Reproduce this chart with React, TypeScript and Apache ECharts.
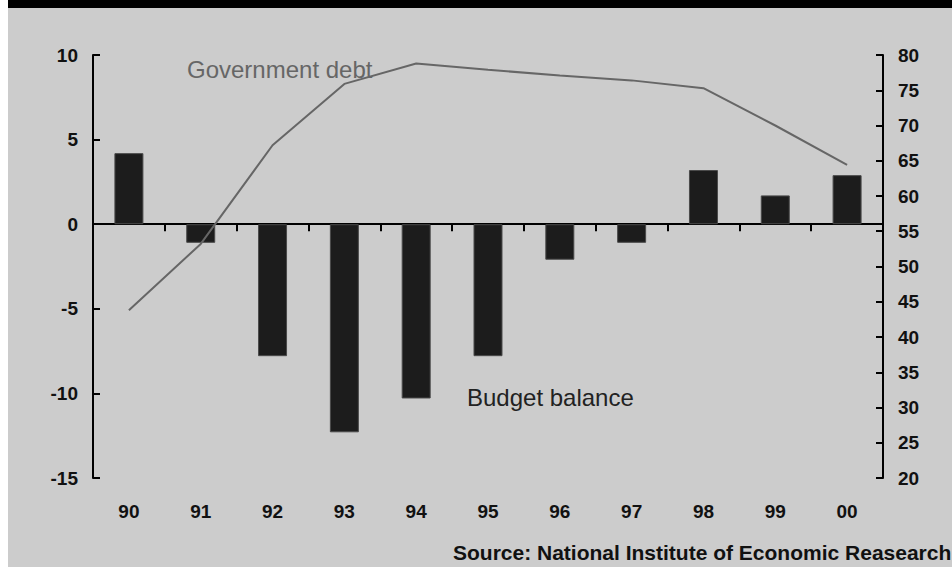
import React, { useEffect, useRef } from "react";
import * as echarts from "echarts";

const years = ["90", "91", "92", "93", "94", "95", "96", "97", "98", "99", "00"];
const budgetBalance = [4.2, -1.1, -7.8, -12.3, -10.3, -7.8, -2.1, -1.1, 3.2, 1.7, 2.9];
const governmentDebt = [43.8, 53.2, 67.2, 75.9, 78.8, 77.9, 77.1, 76.4, 75.3, 70.0, 64.4];
const leftTicks = { min: -15, max: 10, interval: 5 };
const rightTicks = { min: 20, max: 80, interval: 5 };

export default function App() {
  const ref = useRef<HTMLDivElement>(null);
  useEffect(() => {
    if (!ref.current) return;
    const chart = echarts.init(ref.current, undefined, { renderer: "svg" });
    const font = "'Liberation Sans', Arial, sans-serif";
    chart.setOption({
      animation: false,
      backgroundColor: "#cccccc",
      grid: { left: 93, right: 69, top: 55, bottom: 89, containLabel: false, outerBoundsMode: "none" },
      graphic: [
        { type: "rect", shape: { x: 0, y: 0, width: 8, height: 567 }, style: { fill: "#ffffff" }, silent: true },
        { type: "rect", shape: { x: 8, y: 0, width: 944, height: 8 }, style: { fill: "#000000" }, silent: true },
        {
          type: "text",
          x: 187,
          y: 69,
          style: { text: "Government debt", fill: "#666666", font: `24px ${font}`, verticalAlign: "middle" },
          z: 10,
        },
        {
          type: "text",
          x: 467,
          y: 397,
          style: { text: "Budget balance", fill: "#222222", font: `24px ${font}`, verticalAlign: "middle" },
          z: 10,
        },
        {
          type: "text",
          x: 453,
          y: 552,
          style: {
            text: "Source: National Institute of Economic Reasearch",
            fill: "#111111",
            font: `bold 21px ${font}`,
            verticalAlign: "middle",
          },
          z: 10,
        },
      ],
      xAxis: [
        {
          type: "category",
          data: years,
          boundaryGap: true,
          position: "bottom",
          axisLine: { show: true, onZero: true, lineStyle: { color: "#000000", width: 2 } },
          axisTick: { show: true, inside: false, length: 7, lineStyle: { color: "#000000", width: 2 } },
          axisLabel: { show: false },
          splitLine: { show: false },
        },
        {
          type: "category",
          data: years,
          boundaryGap: true,
          position: "bottom",
          axisLine: { show: false, onZero: false },
          axisTick: { show: false },
          axisLabel: { margin: 24, color: "#111111", fontFamily: font, fontWeight: "bold", fontSize: 19 },
          splitLine: { show: false },
        },
      ],
      yAxis: [
        {
          type: "value",
          position: "left",
          min: leftTicks.min,
          max: leftTicks.max,
          interval: leftTicks.interval,
          axisLine: { show: true, lineStyle: { color: "#000000", width: 2 } },
          axisTick: { show: true, inside: true, length: 7, lineStyle: { color: "#000000", width: 2 } },
          axisLabel: { margin: 15, color: "#111111", fontFamily: font, fontWeight: "bold", fontSize: 19 },
          splitLine: { show: false },
        },
        {
          type: "value",
          position: "right",
          min: rightTicks.min,
          max: rightTicks.max,
          interval: rightTicks.interval,
          axisLine: { show: true, lineStyle: { color: "#000000", width: 2 } },
          axisTick: { show: true, inside: true, length: 7, lineStyle: { color: "#000000", width: 2 } },
          axisLabel: { margin: 15, color: "#111111", fontFamily: font, fontWeight: "bold", fontSize: 19 },
          splitLine: { show: false },
        },
      ],
      series: [
        {
          name: "Budget balance",
          type: "bar",
          xAxisIndex: 0,
          yAxisIndex: 0,
          data: budgetBalance,
          barWidth: 29,
          itemStyle: { color: "#1c1c1c", borderColor: "#4a4a4a", borderWidth: 1 },
          z: 2,
        },
        {
          name: "Government debt",
          type: "line",
          xAxisIndex: 0,
          yAxisIndex: 1,
          data: governmentDebt,
          showSymbol: false,
          symbol: "none",
          lineStyle: { color: "#666666", width: 2 },
          z: 5,
        },
      ],
    });
    return () => chart.dispose();
  }, []);
  return (
    <div style={{ position: "fixed", left: 0, top: 0, width: 952, height: 567 }}>
      <div ref={ref} style={{ width: 952, height: 567 }} />
    </div>
  );
}
